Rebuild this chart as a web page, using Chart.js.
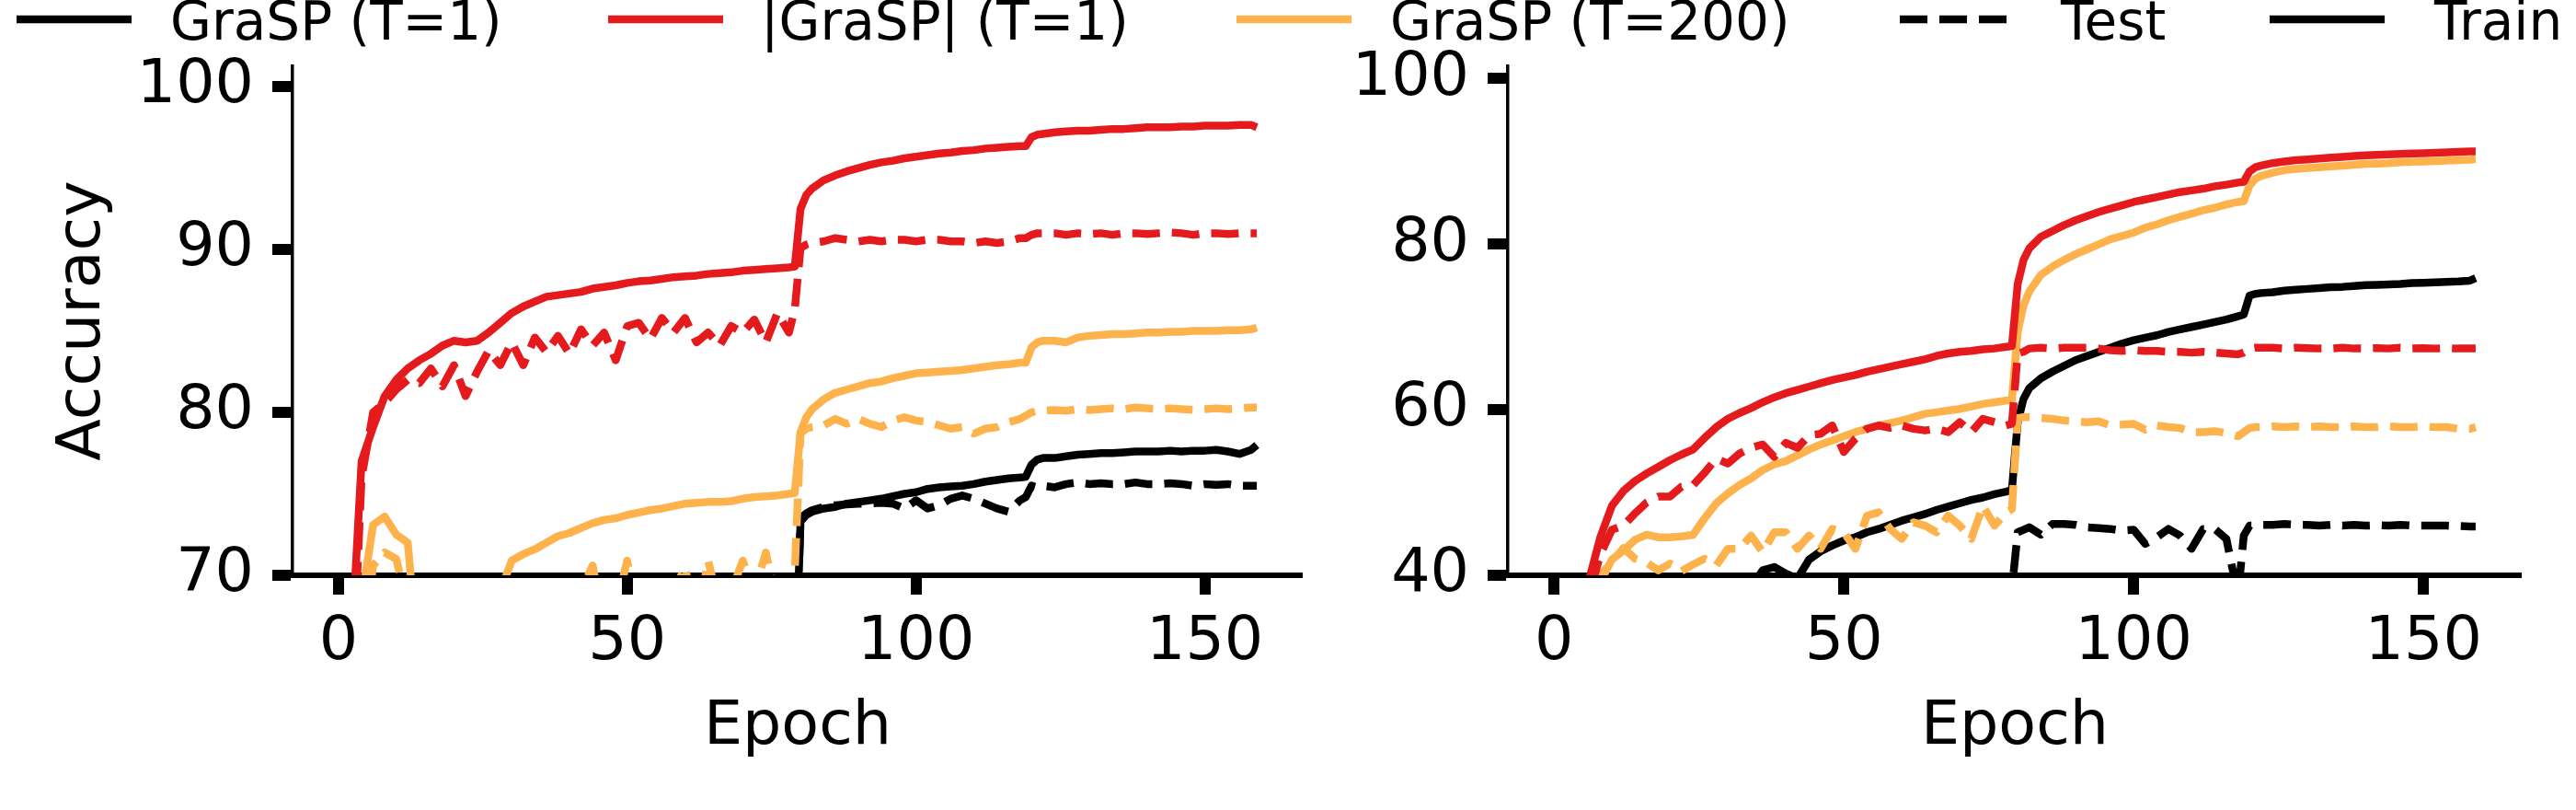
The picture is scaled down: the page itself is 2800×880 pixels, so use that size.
<!DOCTYPE html>
<html>
<head>
<meta charset="utf-8">
<script src="https://cdn.jsdelivr.net/npm/chart.js@4.4.1/dist/chart.umd.min.js"></script>
<style>
  body { margin: 0; background: #fff; }
  #fig { position: relative; width: 2800px; height: 880px; overflow: hidden; font-family: "DejaVu Sans", sans-serif; }
  #fig canvas { position: absolute; top: 0; }
  .leg-line { position: absolute; top: 13px; }
  .leg-text { position: absolute; top: -6px; font-size: 58px; line-height: 58px; white-space: nowrap; color: #000; }
</style>
</head>
<body>
<div id="fig">
  <div id="legend"></div>
  <canvas id="left" width="1440" height="880" style="left:0"></canvas>
  <canvas id="right" width="1360" height="880" style="left:1440px"></canvas>
</div>
<script>
// epochs sampled along the x axis (shared by every series)
const epochs = [
  0, 2, 4, 6, 8, 10, 12, 14, 16, 18,
  20, 22, 24, 26, 28, 30, 32, 34, 36, 38,
  40, 42, 44, 46, 48, 50, 52, 54, 56, 58,
  60, 62, 64, 66, 68, 70, 72, 74, 76, 78,
  79, 80, 81, 82, 84, 86, 88, 90, 92, 94,
  96, 98, 100, 102, 104, 106, 108, 110, 112, 114,
  116, 118, 119, 120, 121, 122, 124, 126, 128, 130,
  132, 134, 136, 138, 140, 142, 144, 146, 148, 150,
  152, 154, 156, 158, 159
];

const xTicks = [0, 50, 100, 150];
const leftYTicks = [70, 80, 90, 100];
const rightYTicks = [40, 60, 80, 100];

const legendLabels = ["GraSP (T=1)", "|GraSP| (T=1)", "GraSP (T=200)", "Test", "Train"];

// ---- left panel ----
const leftAbsTrain = [
  40, 64, 77.0, 79.1, 81.0, 82.0, 82.7, 83.2, 83.6, 84.1,
  84.4, 84.3, 84.4, 84.9, 85.5, 86.1, 86.5, 86.8, 87.1, 87.2,
  87.3, 87.4, 87.6, 87.7, 87.8, 87.95, 88.05, 88.1, 88.2, 88.3,
  88.35, 88.4, 88.5, 88.55, 88.6, 88.7, 88.75, 88.8, 88.85, 88.9,
  88.95, 92.5, 93.35, 93.75, 94.25, 94.55, 94.8, 95.0, 95.2, 95.35,
  95.45, 95.6, 95.7, 95.8, 95.9, 95.95, 96.05, 96.1, 96.2, 96.25,
  96.3, 96.35, 96.35, 96.9, 97.05, 97.1, 97.2, 97.25, 97.3, 97.3,
  97.35, 97.4, 97.4, 97.45, 97.5, 97.5, 97.5, 97.55, 97.55, 97.6,
  97.6, 97.6, 97.65, 97.65, 97.5
];
const leftAbsTest = [
  40, 60, 76.0, 80.0, 80.6, 81.4, 82.0, 81.8, 82.7, 81.6,
  82.9, 81.0, 82.5, 83.8, 82.9, 84.3, 82.9, 84.6, 83.7, 84.7,
  83.6, 85.1, 84.1, 84.9, 83.2, 85.3, 85.5, 84.5, 85.8, 84.9,
  85.8, 84.3, 84.9, 84.1, 85.3, 84.9, 85.7, 84.3, 86.1, 84.9,
  86.3, 90.1, 90.3, 90.4, 90.5, 90.7, 90.6, 90.5, 90.6, 90.5,
  90.6, 90.6, 90.5, 90.6, 90.6, 90.5, 90.5, 90.4, 90.5, 90.4,
  90.5, 90.7, 90.7, 90.9, 91.0, 91.0, 91.0, 90.9, 91.0, 90.95,
  91.0, 90.9, 91.0, 91.0, 90.95, 91.0, 91.05, 91.0, 90.9, 91.0,
  91.0, 90.95, 91.0, 91.0, 91.0
];
const leftT200Train = [
  50, 55, 68.5, 73.1, 73.6, 72.5, 72.0, 64, 60, 58,
  60, 62, 64, 66, 69.0, 70.9, 71.3, 71.6, 72.0, 72.4,
  72.6, 72.9, 73.2, 73.4, 73.5, 73.7, 73.85, 74.0, 74.1, 74.25,
  74.4, 74.45, 74.5, 74.5, 74.55, 74.7, 74.8, 74.85, 74.9, 75.0,
  75.05, 78.8, 79.7, 80.2, 80.8, 81.2, 81.4, 81.6, 81.8, 81.9,
  82.1, 82.25, 82.4, 82.45, 82.5, 82.55, 82.6, 82.7, 82.8, 82.9,
  82.95, 83.05, 83.05, 84.0, 84.3, 84.4, 84.4, 84.3, 84.6, 84.7,
  84.75, 84.8, 84.8, 84.85, 84.9, 84.9, 84.95, 84.95, 85.0, 85.0,
  85.0, 85.05, 85.05, 85.1, 85.2
];
const leftT200Test = [
  45, 55, 65, 70.6, 71.4, 71.0, 68, 62, 60, 61,
  62, 60, 63, 61, 64, 62, 65, 63, 66, 64,
  67, 69, 70.6, 67, 68, 70.9, 67, 68.5, 66, 69,
  70.5, 67, 70.9, 68, 69, 70.9, 69, 71.4, 68, 69.5,
  70.2, 78.7, 79.0, 79.1, 79.2, 79.6, 79.3, 79.6, 79.3, 79.1,
  79.5, 79.7, 79.5, 79.4, 79.2, 79.0, 79.1, 78.7, 79.0, 79.1,
  79.4, 79.6, 79.8, 80.0, 80.1, 80.1, 80.15, 80.1, 80.2, 80.15,
  80.2, 80.25, 80.2, 80.3, 80.25, 80.2, 80.25, 80.2, 80.15, 80.2,
  80.25, 80.2, 80.25, 80.3, 80.3
];
const leftT1Train = [
  20, 25, 30, 34, 37, 40, 42, 44, 45, 46,
  47, 48, 49, 50, 51, 52, 52.5, 53, 53.5, 54,
  54.5, 55, 55.5, 56, 56.5, 57, 57.5, 58, 58.5, 59,
  59.3, 59.6, 60, 60.3, 60.6, 61, 61.3, 61.6, 62, 62.3,
  62.5, 73.3, 73.7, 73.9, 74.1, 74.2, 74.4, 74.5, 74.6, 74.7,
  74.85, 75.0, 75.1, 75.3, 75.4, 75.45, 75.5, 75.6, 75.75, 75.85,
  75.95, 76.0, 76.05, 76.8, 77.1, 77.2, 77.2, 77.3, 77.4, 77.45,
  77.5, 77.5, 77.55, 77.6, 77.6, 77.6, 77.65, 77.6, 77.65, 77.65,
  77.7, 77.6, 77.45, 77.7, 78.0
];
const leftT1Test = [
  20, 25, 30, 34, 37, 40, 42, 44, 45, 46,
  47, 48, 49, 50, 51, 52, 52.5, 53, 53.5, 54,
  54.5, 55, 55.5, 56, 56.5, 57, 57.5, 58, 58.5, 59,
  59.3, 59.6, 60, 60.3, 60.6, 61, 61.3, 61.6, 62, 62.3,
  62.5, 73.5, 73.8, 74.0, 74.2, 74.3, 74.35, 74.4, 74.4, 74.45,
  74.4, 74.1, 74.6, 74.1, 74.3, 74.7, 74.9, 74.7, 74.4, 74.1,
  73.9, 74.6, 74.8, 75.5, 75.4, 75.5, 75.4, 75.6, 75.7, 75.6,
  75.65, 75.6, 75.6, 75.7, 75.6, 75.6, 75.65, 75.6, 75.5, 75.6,
  75.55, 75.6, 75.5, 75.5, 75.5
];

// ---- right panel ----
const rightAbsTrain = [
  20, 26, 32, 39.3, 44.6, 48.4, 50.2, 51.4, 52.3, 53.1,
  53.9, 54.6, 55.2, 56.6, 57.9, 58.9, 59.6, 60.2, 60.9, 61.5,
  62.0, 62.4, 62.8, 63.2, 63.6, 63.9, 64.2, 64.6, 64.9, 65.2,
  65.5, 65.8, 66.1, 66.5, 66.8, 67.0, 67.1, 67.3, 67.4, 67.6,
  67.7, 75.2, 78.1, 79.5, 80.9, 81.6, 82.3, 82.9, 83.4, 83.9,
  84.3, 84.7, 85.1, 85.4, 85.7, 86.0, 86.3, 86.5, 86.7, 87.0,
  87.2, 87.45, 87.55, 88.8, 89.3, 89.5, 89.8, 90.0, 90.15, 90.25,
  90.35, 90.45, 90.55, 90.65, 90.75, 90.8, 90.85, 90.9, 90.95, 91.0,
  91.05, 91.1, 91.15, 91.2, 91.2
];
const rightAbsTest = [
  20, 25, 31, 37.5, 42.5, 45.5, 46.0, 47.5, 48.8, 49.5,
  49.5, 50.7, 50.9, 52.4, 54.1, 53.5, 54.7, 55.4, 55.8, 54.3,
  56.0, 55.4, 56.9, 57.1, 58.1, 54.9, 56.5, 57.7, 58.1, 57.8,
  58.1, 57.7, 57.5, 57.7, 57.3, 58.5, 57.3, 58.9, 58.5, 58.1,
  58.3, 66.8, 67.0, 67.4, 67.5, 67.4, 67.5, 67.5, 67.5, 67.4,
  67.2, 67.1, 67.2, 67.1, 67.1, 67.0, 67.0, 66.9, 67.0, 66.9,
  66.8, 66.7, 66.9, 67.4, 67.5, 67.5, 67.5, 67.4, 67.5, 67.45,
  67.4, 67.4, 67.5, 67.4, 67.4, 67.45, 67.4, 67.5, 67.4, 67.45,
  67.4, 67.45, 67.4, 67.4, 67.4
];
const rightT200Train = [
  20, 24, 29, 33, 39.2, 41.9, 43.0, 44.3, 44.9, 44.6,
  44.6, 44.7, 44.9, 46.9, 48.7, 49.9, 50.9, 51.7, 52.7, 53.4,
  53.8, 54.5, 55.2, 55.8, 56.3, 56.8, 57.3, 57.7, 58.1, 58.4,
  58.7, 59.1, 59.5, 59.7, 59.9, 60.1, 60.4, 60.7, 60.9, 61.1,
  61.2, 69.4, 72.6, 74.3, 76.3, 77.3, 78.1, 78.8, 79.4, 80.0,
  80.6, 81.0, 81.4, 82.0, 82.4, 82.9, 83.3, 83.7, 84.1, 84.4,
  84.8, 85.1, 85.2, 87.1, 87.9, 88.25, 88.65, 88.95, 89.1, 89.2,
  89.3, 89.4, 89.5, 89.6, 89.7, 89.75, 89.8, 89.9, 89.95, 90.0,
  90.05, 90.1, 90.15, 90.2, 90.3
];
const rightT200Test = [
  20, 25, 30, 35, 40.0, 41.6, 43.3, 42.0, 41.5, 40.6,
  41.4, 40.5, 41.3, 42.0, 41.2, 43.2, 43.2, 44.8, 42.8, 45.2,
  45.2, 43.2, 44.8, 43.2, 45.6, 45.2, 43.2, 47.2, 47.6, 45.6,
  44.4, 46.4, 46.0, 45.2, 47.2, 46.0, 44.4, 48.4, 46.0, 47.6,
  48.0, 59.0, 59.1, 59.1, 59.0, 58.9, 58.7, 58.6, 58.5, 58.6,
  58.1, 58.2, 58.3, 57.6, 58.1, 57.9, 57.8, 57.3, 57.3, 57.4,
  57.2, 56.8, 57.3, 57.8, 57.9, 57.9, 58.0, 57.9, 58.0, 57.9,
  58.0, 57.9, 57.9, 58.0, 57.9, 57.9, 58.0, 57.9, 57.9, 58.0,
  57.9, 57.9, 57.7, 57.7, 57.9
];
const rightT1Train = [
  10, 14, 18, 21, 24, 26, 28, 30, 31, 32,
  33, 34, 35, 36, 36.5, 37, 37.5, 38.5, 40.6, 41.0,
  40.2, 39.6, 41.9, 42.9, 43.6, 44.2, 44.6, 45.2, 45.6, 46.1,
  46.6, 47.0, 47.4, 47.9, 48.3, 48.7, 49.1, 49.4, 49.8, 50.1,
  50.3, 58.5, 61.3, 62.6, 63.8, 64.6, 65.3, 66.0, 66.5, 67.0,
  67.5, 68.0, 68.4, 68.7, 69.0, 69.4, 69.7, 70.0, 70.3, 70.6,
  70.9, 71.3, 71.5, 73.8, 74.0, 74.1, 74.2, 74.4, 74.5, 74.6,
  74.7, 74.8, 74.85, 74.95, 75.05, 75.1, 75.15, 75.2, 75.3, 75.35,
  75.4, 75.45, 75.5, 75.6, 75.9
];
const rightT1Test = [
  10, 12, 14, 16, 18, 20, 21, 22, 23, 24,
  25, 26, 27, 28, 29, 30, 30.5, 31, 31.5, 32,
  32.5, 33, 33.5, 34, 34.5, 35, 35.3, 35.6, 36, 36.2,
  36.4, 36.6, 36.8, 37, 37.2, 37.4, 37.6, 37.8, 38, 38.2,
  38.3, 45.2, 45.5, 45.8, 44.9, 46.2, 46.2, 46.1, 45.8, 45.7,
  45.6, 45.4, 45.5, 43.8, 44.6, 45.6, 44.8, 43.2, 45.6, 45.6,
  44.4, 37.5, 44.8, 46.0, 46.0, 46.1, 46.1, 46.2, 46.1, 46.1,
  46.0, 46.1, 46.0, 46.1, 46.0, 46.05, 46.0, 46.1, 46.0, 46.0,
  46.0, 46.0, 45.95, 45.9, 45.9
];

const RED = "#e41a1c";
const ORANGE = "#feb24c";
const BLACK = "#000000";
const LINE_W = 8.5;
const DASH = [30, 13];
const FAMILY = "'DejaVu Sans', sans-serif";
const BIG = 66.7;

function series(values, color, dashed) {
  return {
    data: values.map((v, i) => ({ x: epochs[i], y: v })),
    borderColor: color,
    borderWidth: LINE_W,
    borderDash: dashed ? DASH : [],
    borderCapStyle: "butt",
    borderJoinStyle: "round",
    pointRadius: 0,
    tension: 0,
    fill: false,
  };
}

function makeChart(id, sets, yMin, yMax, yTicks, yAxisWidth, padRight, yTitle) {
  const font = { family: FAMILY, size: BIG };
  return new Chart(document.getElementById(id), {
    type: "line",
    data: { datasets: sets },
    options: {
      responsive: false,
      animation: false,
      layout: { padding: { top: 72, right: padRight, bottom: 0, left: 0 } },
      plugins: { legend: { display: false }, tooltip: { enabled: false } },
      scales: {
        x: {
          type: "linear",
          min: -7.95,
          max: 166.95,
          z: 1,
          afterBuildTicks: (s) => { s.ticks = xTicks.map((v) => ({ value: v })); },
          afterFit: (s) => { s.height = 255; },
          grid: { drawOnChartArea: false, lineWidth: 0, tickLength: 21, tickWidth: 12, tickColor: BLACK },
          border: { display: true, color: BLACK, width: 6 },
          ticks: { color: BLACK, font, padding: 13, maxRotation: 0, autoSkip: false, callback: (v) => String(v) },
          title: { display: true, text: "Epoch", color: BLACK, font, padding: { top: 0, bottom: 49 } },
        },
        y: {
          type: "linear",
          min: yMin,
          max: yMax,
          z: 1,
          afterBuildTicks: (s) => { s.ticks = yTicks.map((v) => ({ value: v })); },
          afterFit: (s) => { s.width = yAxisWidth; },
          grid: { drawOnChartArea: false, lineWidth: 0, tickLength: 22, tickWidth: 12, tickColor: BLACK },
          border: { display: true, color: BLACK, width: 3.5 },
          ticks: { color: BLACK, font, padding: 20, callback: (v) => String(v) },
          title: { display: !!yTitle, text: yTitle || "", color: BLACK, font, padding: { top: 51, bottom: 0 } },
        },
      },
    },
  });
}

// red drawn on top, black at the bottom
makeChart("left", [
  series(leftAbsTrain, RED, false),
  series(leftAbsTest, RED, true),
  series(leftT200Train, ORANGE, false),
  series(leftT200Test, ORANGE, true),
  series(leftT1Train, BLACK, false),
  series(leftT1Test, BLACK, true),
], 70, 101.25, leftYTicks, 318, 24, "Accuracy");

makeChart("right", [
  series(rightAbsTrain, RED, false),
  series(rightAbsTest, RED, true),
  series(rightT200Train, ORANGE, false),
  series(rightT200Test, ORANGE, true),
  series(rightT1Train, BLACK, false),
  series(rightT1Test, BLACK, true),
], 40, 101.5, rightYTicks, 199, 59, null);

// figure legend across the top
const legendColors = [BLACK, RED, ORANGE, BLACK, BLACK];
const legendDashed = [false, false, false, true, false];
const legendLineX = [18, 661, 1344, 2065, 2467];
const legendTextX = [185, 827, 1511, 2240, 2646];
const legendDiv = document.getElementById("legend");
legendLabels.forEach((label, i) => {
  const dash = legendDashed[i] ? ` stroke-dasharray="${DASH.join(" ")}"` : "";
  legendDiv.innerHTML += `
    <svg class="leg-line" width="125" height="16" style="left:${legendLineX[i]}px">
      <line x1="0" y1="8" x2="125" y2="8" stroke="${legendColors[i]}" stroke-width="8.5"${dash}/>
    </svg>
    <div class="leg-text" style="left:${legendTextX[i]}px">${label}</div>`;
});
</script>
</body>
</html>
